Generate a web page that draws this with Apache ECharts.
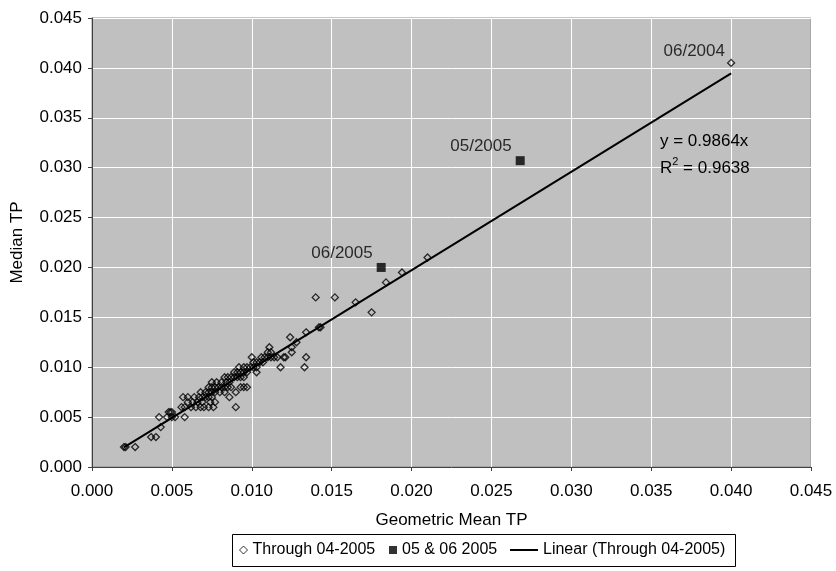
<!DOCTYPE html>
<html>
<head>
<meta charset="utf-8">
<title>Median TP vs Geometric Mean TP</title>
<script src="https://cdn.jsdelivr.net/npm/echarts@6/dist/echarts.min.js"></script>
<style>
  html, body { margin: 0; padding: 0; background: #ffffff; }
  #chart { width: 836px; height: 571px; }
</style>
</head>
<body>
<div id="chart"></div>
<script>
// Monthly TP observations through April 2005: geometric mean vs. median
const throughGeoMean = [
  0.0020, 0.0021, 0.0027,
  0.0037, 0.0040,
  0.0043,
  0.0042, 0.0047, 0.0050, 0.0052, 0.0058,
  0.0048, 0.0049, 0.0050,
  0.0056, 0.0058, 0.0062, 0.0065, 0.0068, 0.0070, 0.0073, 0.0076, 0.0090,
  0.0060, 0.0063, 0.0066, 0.0069, 0.0074, 0.0077,
  0.0057, 0.0060, 0.0064, 0.0067, 0.0069, 0.0071, 0.0073, 0.0075, 0.0086,
  0.0068, 0.0071, 0.0073, 0.0075, 0.0077, 0.0080, 0.0083, 0.0090,
  0.0073, 0.0075, 0.0077, 0.0079, 0.0081, 0.0083, 0.0085, 0.0087, 0.0093, 0.0095, 0.0097,
  0.0075, 0.0078, 0.0081, 0.0084, 0.0086,
  0.0083, 0.0085, 0.0087, 0.0089, 0.0091, 0.0093, 0.0095,
  0.0089, 0.0091, 0.0093, 0.0095, 0.0097, 0.0103,
  0.0092, 0.0095, 0.0097, 0.0099, 0.0101, 0.0103, 0.0118, 0.0133,
  0.0101, 0.0103, 0.0105, 0.0107,
  0.0100, 0.0106, 0.0108, 0.0110, 0.0112, 0.0114, 0.0116, 0.0120, 0.0121, 0.0134,
  0.0110, 0.0112, 0.0125,
  0.0111, 0.0125,
  0.0128,
  0.0124,
  0.0134,
  0.0142, 0.0143,
  0.0175,
  0.0165,
  0.0140, 0.0152,
  0.0184,
  0.0194,
  0.0210,
  0.0400
];
const throughMedian = [
  0.0020, 0.0020, 0.0020,
  0.0030, 0.0030,
  0.0040,
  0.0050, 0.0050, 0.0050, 0.0050, 0.0050,
  0.0055, 0.0055, 0.0055,
  0.0060, 0.0060, 0.0060, 0.0060, 0.0060, 0.0060, 0.0060, 0.0060, 0.0060,
  0.0065, 0.0065, 0.0065, 0.0065, 0.0065, 0.0065,
  0.0070, 0.0070, 0.0070, 0.0070, 0.0070, 0.0070, 0.0070, 0.0070, 0.0070,
  0.0075, 0.0075, 0.0075, 0.0075, 0.0075, 0.0075, 0.0075, 0.0075,
  0.0080, 0.0080, 0.0080, 0.0080, 0.0080, 0.0080, 0.0080, 0.0080, 0.0080, 0.0080, 0.0080,
  0.0085, 0.0085, 0.0085, 0.0085, 0.0085,
  0.0090, 0.0090, 0.0090, 0.0090, 0.0090, 0.0090, 0.0090,
  0.0095, 0.0095, 0.0095, 0.0095, 0.0095, 0.0095,
  0.0100, 0.0100, 0.0100, 0.0100, 0.0100, 0.0100, 0.0100, 0.0100,
  0.0105, 0.0105, 0.0105, 0.0105,
  0.0110, 0.0110, 0.0110, 0.0110, 0.0110, 0.0110, 0.0110, 0.0110, 0.0110, 0.0110,
  0.0115, 0.0115, 0.0115,
  0.0120, 0.0120,
  0.0125,
  0.0130,
  0.0135,
  0.0140, 0.0140,
  0.0155,
  0.0165,
  0.0170, 0.0170,
  0.0185,
  0.0195,
  0.0210,
  0.0405
];
const throughPeakLabel = '06/2004';

// May and June 2005
const recentGeoMean = [0.0268, 0.0181];
const recentMedian  = [0.0307, 0.0200];
const recentLabels  = ['05/2005', '06/2005'];

// Linear trend through the origin, fitted to data through 04-2005
const trendSlope = 0.9864;
const trendR2 = 0.9638;

const axisTicks = [0, 0.045, 0.005]; // min, max, step for both axes

const FONT = '"Liberation Sans", Arial, sans-serif';
const FS = 17;        // axis, title and annotation text
const LEGEND_FS = 16; // legend text

const peakIndex = throughGeoMean.indexOf(Math.max(...throughGeoMean));
const throughData = throughGeoMean.map((x, i) => {
  const item = { value: [x, throughMedian[i]] };
  if (i === peakIndex) {
    item.label = {
      show: true, formatter: throughPeakLabel, position: 'left',
      distance: 2, offset: [0, -12],
      color: '#000', fontSize: FS, fontFamily: FONT
    };
  }
  return item;
});

const recentData = recentGeoMean.map((x, i) => ({
  value: [x, recentMedian[i]],
  label: {
    show: true, formatter: recentLabels[i], position: 'left',
    distance: 4, offset: [0, -14],
    color: '#000', fontSize: FS, fontFamily: FONT
  }
}));

const xMin = Math.min(...throughGeoMean);
const xMax = Math.max(...throughGeoMean);
const trendData = [[xMin, trendSlope * xMin], [xMax, trendSlope * xMax]];

const axisCommon = {
  type: 'value',
  min: axisTicks[0], max: axisTicks[1], interval: axisTicks[2],
  axisLine: { show: true, onZero: false, lineStyle: { color: '#404040', width: 1 } },
  axisTick: { show: true, length: 4, lineStyle: { color: '#404040' } },
  splitLine: { show: true, lineStyle: { color: '#ffffff', width: 1 } },
  axisLabel: {
    color: '#000', fontSize: FS, fontFamily: FONT,
    formatter: v => v.toFixed(3)
  },
  nameTextStyle: { color: '#000', fontSize: FS, fontFamily: FONT },
  nameLocation: 'middle'
};

const legendText = { color: '#000', fontSize: LEGEND_FS, fontFamily: FONT };
const legendBase = { top: 542, padding: 0, itemHeight: 8, textStyle: legendText, selectedMode: false };

const chart = echarts.init(document.getElementById('chart'), null, { renderer: 'canvas' });
chart.setOption({
  animation: false,
  backgroundColor: '#ffffff',
  grid: {
    left: 92, top: 18, right: 25, bottom: 104,
    outerBoundsMode: 'none', containLabel: false,
    show: true, backgroundColor: '#c0c0c0', borderColor: '#8c8c8c', borderWidth: 1
  },
  xAxis: Object.assign({}, axisCommon, {
    name: 'Geometric Mean TP', nameGap: 45,
    axisLabel: Object.assign({}, axisCommon.axisLabel, { margin: 16 })
  }),
  yAxis: Object.assign({}, axisCommon, {
    name: 'Median TP', nameGap: 66, nameRotate: 90,
    axisLabel: Object.assign({}, axisCommon.axisLabel, { margin: 10 })
  }),
  legend: [
    Object.assign({}, legendBase, {
      left: 239, itemWidth: 8,
      data: [{ name: 'Through 04-2005', icon: 'path://M5,0L10,5L5,10L0,5Z',
               itemStyle: { color: 'rgba(0,0,0,0)', borderColor: '#000', borderWidth: 1 } }]
    }),
    Object.assign({}, legendBase, {
      left: 389, itemWidth: 8,
      data: [{ name: '05 & 06 2005', icon: 'path://M0,0H10V10H0Z', itemStyle: { color: '#000' } }]
    }),
    Object.assign({}, legendBase, {
      left: 510, itemWidth: 28,
      data: [{ name: 'Linear (Through 04-2005)', icon: 'path://M0,0H28V2H0Z', itemStyle: { color: '#000' } }]
    })
  ],
  graphic: [
    {
      type: 'rect', left: 232, top: 534, z: -1,
      shape: { width: 503, height: 32 },
      style: { fill: '#ffffff', stroke: '#000000', lineWidth: 1 }
    },
    {
      type: 'text', left: 660, top: 133, z: 100,
      style: { text: 'y = ' + trendSlope.toFixed(4) + 'x', fill: '#000', font: FS + 'px ' + FONT }
    },
    {
      type: 'text', left: 660, top: 156, z: 100,
      style: {
        text: '{a|R}{s|2}{a| = ' + trendR2.toFixed(4) + '}',
        rich: {
          a: { fontSize: FS, fontFamily: FONT, color: '#000', verticalAlign: 'bottom', lineHeight: 21 },
          s: { fontSize: 11, fontFamily: FONT, color: '#000', verticalAlign: 'top', lineHeight: 21, padding: [0, 0, 9, 0] }
        }
      }
    }
  ],
  series: [
    {
      name: 'Through 04-2005', type: 'scatter', symbol: 'diamond', symbolSize: 7,
      itemStyle: { color: 'rgba(0,0,0,0)', borderColor: '#000', borderWidth: 1.3 },
      data: throughData, z: 2
    },
    {
      name: '05 & 06 2005', type: 'scatter', symbol: 'rect', symbolSize: 9,
      itemStyle: { color: '#000' },
      data: recentData, z: 3
    },
    {
      name: 'Linear (Through 04-2005)', type: 'line', showSymbol: false, symbol: 'none',
      lineStyle: { color: '#000', width: 2 },
      data: trendData, z: 4, silent: true
    }
  ]
});
</script>
</body>
</html>
